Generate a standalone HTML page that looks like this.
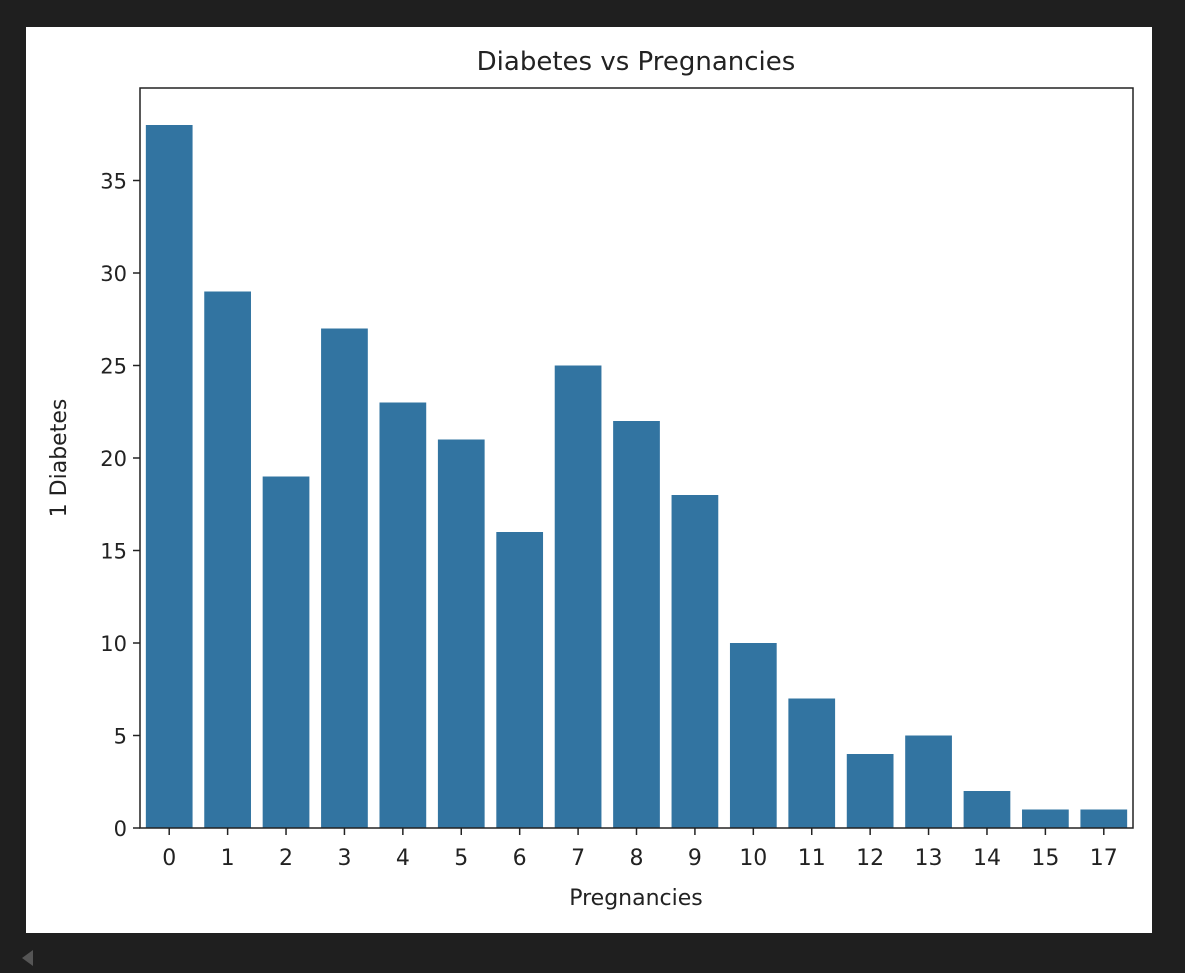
<!DOCTYPE html>
<html><head><meta charset="utf-8"><style>
html,body{margin:0;padding:0;background:#1f1f1f;width:1185px;height:973px;overflow:hidden}
svg{display:block}
text{font-family:"DejaVu Sans","Liberation Sans",sans-serif;fill:#222}
</style></head><body>
<svg width="1185" height="973">
<rect x="26" y="27" width="1126" height="906" fill="#fff"/>
<polygon points="33,950 22,958 33,966" fill="#555"/>
<g id="bars"></g>
<g id="axes"></g>
<text x="636" y="70" text-anchor="middle" font-size="26">Diabetes vs Pregnancies</text>
<text x="636" y="905" text-anchor="middle" font-size="22">Pregnancies</text>
<text transform="translate(66,458) rotate(-90)" text-anchor="middle" font-size="22">1 Diabetes</text>
</svg>
<script>
const categories=["0","1","2","3","4","5","6","7","8","9","10","11","12","13","14","15","17"];
const values=[38,29,19,27,23,21,16,25,22,18,10,7,4,5,2,1,1];
const yTicks=[0,5,10,15,20,25,30,35];
const L=140,R=1133,T=88,B=828;
const yMax=40.0;
const yScale=v=>B-v*(B-T)/yMax;
const step=(R-L)/categories.length;
const xCenter=i=>L+step*(i+0.5);
const NS="http://www.w3.org/2000/svg";
const bars=document.getElementById('bars'),axes=document.getElementById('axes');
function mk(tag,attrs,parent){const e=document.createElementNS(NS,tag);for(const k in attrs)e.setAttribute(k,attrs[k]);parent.appendChild(e);return e;}
values.forEach((v,i)=>{
  const w=step*0.8;
  const r=mk('rect',{x:xCenter(i)-w/2,y:yScale(v),width:w,height:B-yScale(v),fill:'#3274a1'},bars);
  
  
});
const frame=mk('rect',{x:L,y:T,width:R-L,height:B-T,fill:'none',stroke:'#222','stroke-width':1.5},axes);


categories.forEach((c,i)=>{
  const x=xCenter(i);
  mk('line',{x1:x,x2:x,y1:B,y2:B+7,stroke:'#222','stroke-width':1.5},axes);
  const t=mk('text',{x:x,y:B+37,'text-anchor':'middle','font-size':22},axes);
  t.textContent=c;
  
  
});
yTicks.forEach(v=>{
  const y=yScale(v);
  mk('line',{x1:L-7,x2:L,y1:y,y2:y,stroke:'#222','stroke-width':1.5},axes);
  const t=mk('text',{x:L-13,y:y+8,'text-anchor':'end','font-size':21},axes);
  t.textContent=v;
  
  
});
</script>
</body></html>
